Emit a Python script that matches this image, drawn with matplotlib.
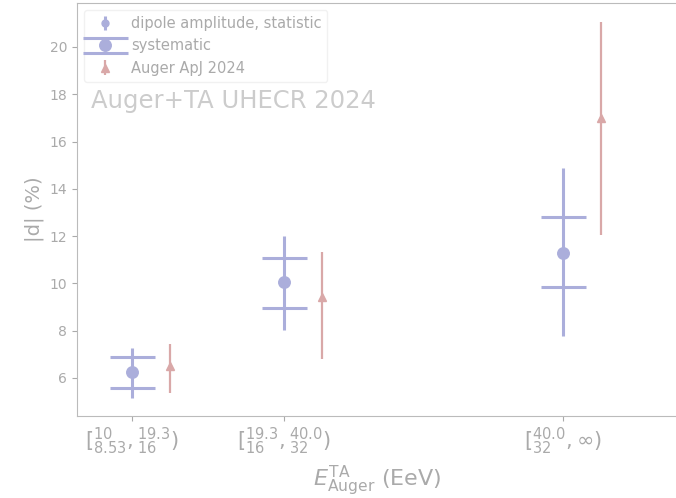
import matplotlib
matplotlib.use("Agg")
import matplotlib.pyplot as plt

# Energy bins (TA / Auger energy scales)
bin_labels = [
    r"$[^{10}_{8.53},^{19.3}_{16})$",
    r"$[^{19.3}_{16},^{40.0}_{32})$",
    r"$[^{40.0}_{32},\infty)$",
]
bin_pos = [14.0, 28.0, 53.7]

# Combined Auger+TA dipole amplitude (%)
dipole = [6.24, 10.05, 11.30]
stat_up = [1.02, 1.97, 3.56]
stat_dn = [1.07, 2.02, 3.51]
sys_up = [0.66, 1.01, 1.52]
sys_dn = [0.67, 1.09, 1.46]

# Auger ApJ 2024 dipole amplitude (%)
auger = [6.49, 9.43, 16.99]
auger_up = [0.94, 1.88, 4.07]
auger_dn = [1.13, 2.62, 4.95]

blue = "#abaedb"
red = "#d9a8a8"
grey = "#aaaaaa"

fig = plt.figure(figsize=(6.76, 4.98), dpi=100)
ax = fig.add_axes([77 / 676, 82 / 498, 1.003 - 77 / 676, (416 - 3) / 498])

ax.errorbar(bin_pos, dipole, yerr=[stat_dn, stat_up], fmt="o", color=blue,
            markersize=5, elinewidth=2.2, label="dipole amplitude, statistic", zorder=3)
ax.errorbar(bin_pos, dipole, yerr=[sys_dn, sys_up], fmt="o", color=blue,
            markersize=8.3, elinewidth=0, capsize=16.2, capthick=2.2,
            label="systematic", zorder=3)
auger_pos = [p + 3.55 for p in bin_pos]
ax.errorbar(auger_pos, auger, yerr=[auger_dn, auger_up], fmt="^", color=red,
            markersize=6, elinewidth=1.6, label="Auger ApJ 2024", zorder=3)

ax.set_xlim(8.95, 64.3)
ax.set_ylim(4.39, 21.86)
ax.set_yticks([6, 8, 10, 12, 14, 16, 18, 20])
ax.set_xticks(bin_pos)
ax.set_xticklabels(bin_labels)

for s in ax.spines.values():
    s.set_color("#bbbbbb")
ax.tick_params(colors=grey, labelcolor=grey, labelsize=10)
ax.tick_params(axis="x", labelsize=15)

ax.set_ylabel("|d| (%)", color=grey, fontsize=14)
ax.set_xlabel(r"$E^{\mathrm{TA}}_{\mathrm{Auger}}$ (EeV)", color=grey, fontsize=16,
              labelpad=5)

ax.text(0.024, 0.762, "Auger+TA UHECR 2024", transform=ax.transAxes,
        fontsize=17.5, color="#cccccc", va="center", ha="left")

leg = ax.legend(loc="upper left", fontsize=10.5, frameon=True,
                bbox_to_anchor=(0.0, 1.0), borderaxespad=0.5)
leg.get_frame().set_edgecolor("#eeeeee")
for t in leg.get_texts():
    t.set_color(grey)

fig.savefig("out.png", dpi=100)
